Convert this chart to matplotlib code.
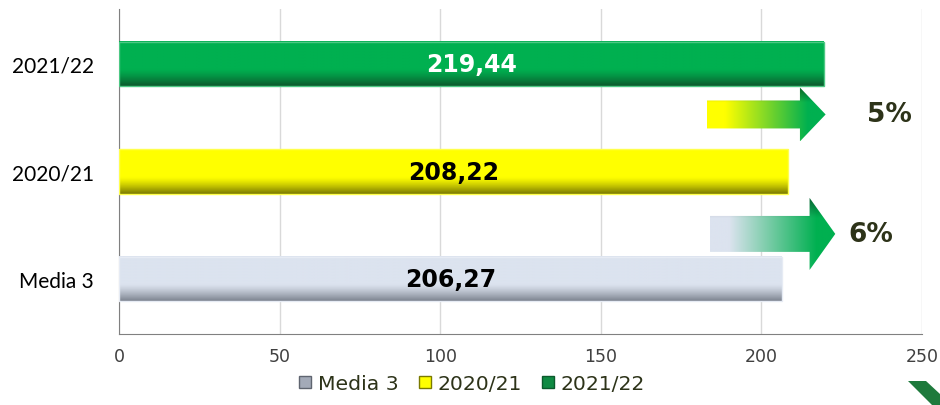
import numpy as np
import matplotlib.pyplot as plt
from matplotlib.patches import Polygon
from matplotlib.lines import Line2D
from matplotlib.colors import to_rgb

# data
categories = ["Media 3", "2020/21", "2021/22"]
values = [206.27, 208.22, 219.44]
value_labels = ["206,27", "208,22", "219,44"]
bar_colors = ["#dce3ef", "#ffff00", "#00b050"]
shade_colors = ["#7d8490", "#7a7a00", "#0b5a2c"]
label_colors = ["black", "black", "white"]
x_ticks = [0, 50, 100, 150, 200, 250]
changes = ["6%", "5%"]  # Media 3 -> 2021/22, 2020/21 -> 2021/22

fig = plt.figure(figsize=(9.4, 4.06), dpi=100)
ax = fig.add_axes([119 / 940, 1 - 335 / 406, 803 / 940, 325 / 406])

y = np.arange(len(categories))
bar_h = 0.41
bars = ax.barh(y, values, height=bar_h, color=bar_colors, zorder=2)

# 3D-ish shading on bottom of bars
for b, c, s in zip(bars, bar_colors, shade_colors):
    x0, y0, w, h = b.get_x(), b.get_y(), b.get_width(), b.get_height()
    t = np.linspace(0, 1, 60)[:, None]
    c1, c2 = np.array(to_rgb(c)), np.array(to_rgb(s))
    k = np.clip((0.38 - t) / 0.38, 0, 1) ** 1.3
    img = c1 * (1 - k[..., None]) + c2 * k[..., None]
    img = np.repeat(img, 2, axis=1)
    ax.imshow(img, extent=[x0, x0 + w, y0, y0 + h], origin="lower",
              aspect="auto", zorder=3)
    edge = np.array(to_rgb(c)) * 0.7 + 0.3
    ax.add_patch(plt.Rectangle((x0, y0), w, h, fill=False, ec=edge, lw=1.0, zorder=4))

for yi, v, lab, lc in zip(y, values, value_labels, label_colors):
    ax.text(v / 2, yi, lab, ha="center", va="center", fontsize=17,
            fontweight="bold", color=lc, zorder=5)


def gradient_arrow(ax, x0, x1, xh, yc, bh, hh, c_start):
    pts = [(x0, yc - bh), (xh, yc - bh), (xh, yc - hh), (x1, yc),
           (xh, yc + hh), (xh, yc + bh), (x0, yc + bh)]
    poly = Polygon(pts, closed=True, fc="none", ec="none", zorder=3)
    ax.add_patch(poly)
    nx, ny = 200, 60
    u = np.linspace(0, 1, nx)[None, :, None]
    v = np.linspace(0, 1, ny)[:, None, None]
    ca, cb = np.array(to_rgb(c_start)), np.array(to_rgb("#00b050"))
    k = np.clip((u - 0.15) / 0.7, 0, 1)
    img = ca * (1 - k) + cb * k
    dark = np.clip((v - 0.72) / 0.28, 0, 1) * 0.45
    img = img * (1 - dark)
    ax.imshow(img, extent=[x0, x1, yc - hh, yc + hh], origin="lower",
              aspect="auto", zorder=3, clip_path=poly, clip_on=True)


gradient_arrow(ax, 184, 223, 215, 0.42, 0.167, 0.335, "#dce3ef")
gradient_arrow(ax, 183, 220, 212, 1.53, 0.13, 0.25, "#ffff00")
ax.text(234, 0.42, changes[0], ha="center", va="center", fontsize=19,
        fontweight="bold", color="#2d3319", clip_on=False)
ax.text(240, 1.53, changes[1], ha="center", va="center", fontsize=19,
        fontweight="bold", color="#2d3319", clip_on=False)

ax.set_xlim(0, 250)
ax.set_ylim(-0.51, 2.51)
ax.set_xticks(x_ticks)
ax.set_xticklabels([str(t) for t in x_ticks], fontsize=12.5, color="#404040")
ax.set_yticks(y)
ax.set_yticklabels(categories, fontsize=15, family="Lato", color="black")
ax.tick_params(length=0)
ax.tick_params(axis="y", pad=18)
ax.tick_params(axis="x", pad=9)
ax.grid(axis="x", color="#d9d9d9", lw=1, zorder=0)
ax.set_axisbelow(True)
for side in ["top", "right"]:
    ax.spines[side].set_visible(False)
ax.spines["left"].set_color("#808080")
ax.spines["bottom"].set_color("#808080")

handles = [
    Line2D([], [], ls="", marker="s", markersize=8, mfc="#a3aab8", mec="#5f6570"),
    Line2D([], [], ls="", marker="s", markersize=8, mfc="#ffff00", mec="#7a7a00"),
    Line2D([], [], ls="", marker="s", markersize=8, mfc="#0f8a43", mec="#0b5a2c"),
]
fig.legend(handles, categories, loc="center", bbox_to_anchor=(0.502, 0.052),
           ncol=3, frameon=False, fontsize=14.7, handlelength=0.6,
           handletextpad=0.3, columnspacing=1.0, labelcolor="#2d3319")

# decorative corner tip
fig.patches.append(Polygon([(908 / 940, 1 - 382 / 406), (926 / 940, 1 - 382 / 406),
                            (940 / 940, 1 - 395 / 406), (940 / 940, 0),
                            (932 / 940, 0)],
                           closed=True, transform=fig.transFigure,
                           fc="#1e7a3c", ec="none"))

fig.savefig("out.png", dpi=100)
